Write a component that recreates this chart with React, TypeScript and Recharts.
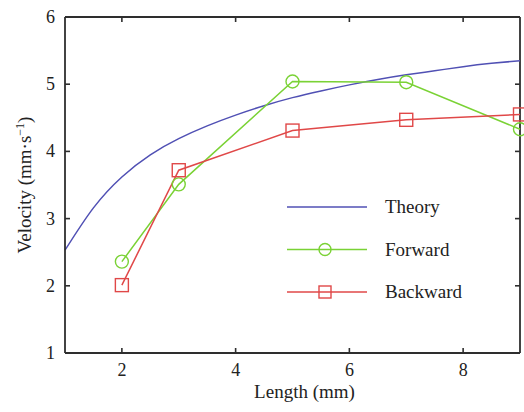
import React from 'react';
import { LineChart, Line, XAxis, YAxis, Legend, ReferenceLine } from 'recharts';

const theoryX = [1, 1.5, 2, 2.5, 3, 3.5, 4, 4.5, 5, 5.5, 6, 6.5, 7, 7.5, 8, 8.5, 9];
const theoryY = [2.53, 3.16, 3.62, 3.95, 4.19, 4.38, 4.54, 4.68, 4.8, 4.9, 4.99, 5.07, 5.14, 5.2, 5.26, 5.31, 5.35];
const measuredX = [2, 3, 5, 7, 9];
const forwardY = [2.36, 3.51, 5.04, 5.03, 4.33];
const backwardY = [2.01, 3.72, 4.31, 4.47, 4.55];
const xTicks = [2, 4, 6, 8];
const yTicks = [1, 2, 3, 4, 5, 6];
const xDomain = [1, 9];
const yDomain = [1, 6];
const seriesNames = ['Theory', 'Forward', 'Backward'];
const seriesColors = ['#5050b4', '#7ad235', '#e04848'];

const theoryData = theoryX.map((x, i) => ({ x, y: theoryY[i] }));
const forwardData = measuredX.map((x, i) => ({ x, y: forwardY[i] }));
const backwardData = measuredX.map((x, i) => ({ x, y: backwardY[i] }));

const FONT = '"Liberation Serif", "Times New Roman", serif';
const AXIS = '#2e2e2e';
const TEXT = '#222222';

const W = 524;
const H = 412;
const MARGIN = { top: 17, right: 4, bottom: 29, left: 5 };
const PLOT_TOP = MARGIN.top;
const PLOT_RIGHT = W - MARGIN.right;

const BottomTick = (props: any) => {
  const { x, y, payload } = props;
  return (
    <g>
      <path d={`M${x},${y}V${y - 5}`} stroke={AXIS} strokeWidth={1.6} fill="none" />
      <path d={`M${x},${PLOT_TOP}V${PLOT_TOP + 5}`} stroke={AXIS} strokeWidth={1.6} fill="none" />
      <text x={x} y={y + 23} textAnchor="middle" fontFamily={FONT} fontSize={18} fill={TEXT}>
        {payload.value}
      </text>
    </g>
  );
};

const LeftTick = (props: any) => {
  const { x, y, payload } = props;
  return (
    <g>
      <path d={`M${x},${y}H${x + 5}`} stroke={AXIS} strokeWidth={1.6} fill="none" />
      <path d={`M${PLOT_RIGHT - 5},${y}H${PLOT_RIGHT}`} stroke={AXIS} strokeWidth={1.6} fill="none" />
      <text x={x - 10} y={y + 6} textAnchor="end" fontFamily={FONT} fontSize={18} fill={TEXT}>
        {payload.value}
      </text>
    </g>
  );
};

const XLabel = (props: any) => {
  const vb = props.viewBox || { x: 65, y: 353, width: 455, height: 30 };
  return (
    <text x={vb.x + vb.width / 2 + 12} y={vb.y + 45} textAnchor="middle" fontFamily={FONT} fontSize={19} fill={TEXT}>
      Length (mm)
    </text>
  );
};

const YLabel = (props: any) => {
  const vb = props.viewBox || { x: 5, y: 17, width: 60, height: 336 };
  const cx = vb.x + 26;
  const cy = vb.y + vb.height / 2;
  return (
    <text
      x={cx}
      y={cy}
      transform={`rotate(-90, ${cx}, ${cy})`}
      textAnchor="middle"
      fontFamily={FONT}
      fontSize={19}
      fill={TEXT}
    >
      Velocity (mm·s
      <tspan fontSize={12} dy={-7}>−1</tspan>
      <tspan dy={7}>)</tspan>
    </text>
  );
};

const Square = (props: any) => {
  const { cx, cy, stroke } = props;
  if (cx == null || cy == null) return null;
  return <rect x={cx - 6.5} y={cy - 6.5} width={13} height={13} fill="none" stroke={stroke} strokeWidth={1.4} />;
};

const Circle = (props: any) => {
  const { cx, cy, stroke } = props;
  if (cx == null || cy == null) return null;
  return <circle cx={cx} cy={cy} r={6.5} fill="none" stroke={stroke} strokeWidth={1.4} />;
};

const renderLegend = () => {
  return (
    <svg width={200} height={120}>
      {seriesNames.map((name, i) => {
        const y = 17 + i * 42.5;
        const c = seriesColors[i];
        return (
          <g key={name}>
            <line x1={2} x2={82} y1={y} y2={y} stroke={c} strokeWidth={1.5} />
            {i === 1 && <circle cx={40} cy={y} r={6} fill="none" stroke={c} strokeWidth={1.4} />}
            {i === 2 && <rect x={34} y={y - 6} width={12} height={12} fill="none" stroke={c} strokeWidth={1.4} />}
            <text x={100} y={y + 6} fontFamily={FONT} fontSize={19} fill={TEXT}>
              {name}
            </text>
          </g>
        );
      })}
    </svg>
  );
};

export default function App() {
  return (
    <div style={{ position: 'absolute', left: 0, top: 0, width: W, height: H, background: '#fff' }}>
      <LineChart width={W} height={H} margin={MARGIN}>
        <XAxis
          dataKey="x"
          type="number"
          domain={xDomain}
          ticks={xTicks}
          interval={0}
          height={30}
          tickSize={0}
          tickMargin={0}
          tick={<BottomTick />}
          axisLine={{ stroke: AXIS, strokeWidth: 1.8 }}
          tickLine={false}
          label={<XLabel />}
        />
        <YAxis
          type="number"
          domain={yDomain}
          ticks={yTicks}
          interval={0}
          width={60}
          tickSize={0}
          tickMargin={0}
          tick={<LeftTick />}
          axisLine={{ stroke: AXIS, strokeWidth: 1.8 }}
          tickLine={false}
          label={<YLabel />}
        />
        <ReferenceLine y={yDomain[1]} stroke={AXIS} strokeWidth={1.8} ifOverflow="visible" />
        <ReferenceLine x={xDomain[1]} stroke={AXIS} strokeWidth={1.8} ifOverflow="visible" />
        <Legend
          layout="horizontal"
          verticalAlign="middle"
          align="center"
          content={renderLegend}
          wrapperStyle={{ position: 'absolute', left: 285, top: 190, width: 200, height: 120 }}
        />
        <Line
          data={theoryData}
          dataKey="y"
          name={seriesNames[0]}
          type="natural"
          stroke={seriesColors[0]}
          strokeWidth={1.5}
          dot={false}
          activeDot={false}
          isAnimationActive={false}
        />
        <Line
          data={forwardData}
          dataKey="y"
          name={seriesNames[1]}
          type="linear"
          stroke={seriesColors[1]}
          strokeWidth={1.5}
          dot={<Circle />}
          activeDot={false}
          isAnimationActive={false}
        />
        <Line
          data={backwardData}
          dataKey="y"
          name={seriesNames[2]}
          type="linear"
          stroke={seriesColors[2]}
          strokeWidth={1.5}
          dot={<Square />}
          activeDot={false}
          isAnimationActive={false}
        />
      </LineChart>
    </div>
  );
}
